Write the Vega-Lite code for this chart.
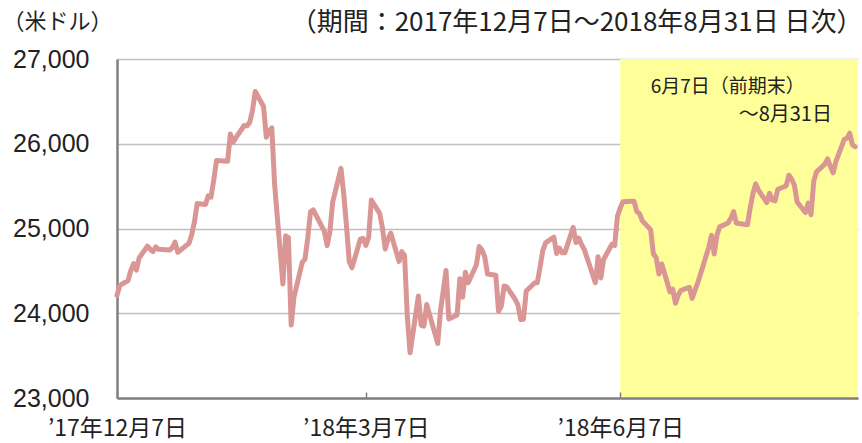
{
  "$schema": "https://vega.github.io/schema/vega-lite/v6.json",
  "width": 741,
  "height": 339,
  "autosize": {"type": "none"},
  "padding": {"left": 117, "top": 59, "right": 4, "bottom": 45},
  "background": "white",
  "config": {"view": {"stroke": null}, "font": "Noto Sans CJK JP"},
  "resolve": {"axis": {"x": "independent", "y": "independent"}},
  "data": {"values": [
    {"date": "2017-12-07", "v": 24211}, {"date": "2017-12-08", "v": 24329}, {"date": "2017-12-11", "v": 24386}, {"date": "2017-12-12", "v": 24505}, {"date": "2017-12-13", "v": 24585}, {"date": "2017-12-14", "v": 24509}, {"date": "2017-12-15", "v": 24652}, {"date": "2017-12-18", "v": 24792}, {"date": "2017-12-19", "v": 24755}, {"date": "2017-12-20", "v": 24727}, {"date": "2017-12-21", "v": 24782}, {"date": "2017-12-22", "v": 24754}, {"date": "2017-12-26", "v": 24746}, {"date": "2017-12-27", "v": 24774}, {"date": "2017-12-28", "v": 24838}, {"date": "2017-12-29", "v": 24719},
    {"date": "2018-01-02", "v": 24824}, {"date": "2018-01-03", "v": 24923}, {"date": "2018-01-04", "v": 25075}, {"date": "2018-01-05", "v": 25296}, {"date": "2018-01-08", "v": 25283}, {"date": "2018-01-09", "v": 25386}, {"date": "2018-01-10", "v": 25369}, {"date": "2018-01-11", "v": 25575}, {"date": "2018-01-12", "v": 25803}, {"date": "2018-01-16", "v": 25793}, {"date": "2018-01-17", "v": 26116}, {"date": "2018-01-18", "v": 26018}, {"date": "2018-01-19", "v": 26072}, {"date": "2018-01-22", "v": 26215}, {"date": "2018-01-23", "v": 26211}, {"date": "2018-01-24", "v": 26252}, {"date": "2018-01-25", "v": 26393}, {"date": "2018-01-26", "v": 26617}, {"date": "2018-01-29", "v": 26439}, {"date": "2018-01-30", "v": 26077}, {"date": "2018-01-31", "v": 26149},
    {"date": "2018-02-01", "v": 26187}, {"date": "2018-02-02", "v": 25521}, {"date": "2018-02-05", "v": 24346}, {"date": "2018-02-06", "v": 24913}, {"date": "2018-02-07", "v": 24893}, {"date": "2018-02-08", "v": 23860}, {"date": "2018-02-09", "v": 24191}, {"date": "2018-02-12", "v": 24601}, {"date": "2018-02-13", "v": 24640}, {"date": "2018-02-14", "v": 24893}, {"date": "2018-02-15", "v": 25200}, {"date": "2018-02-16", "v": 25219}, {"date": "2018-02-20", "v": 24965}, {"date": "2018-02-21", "v": 24798}, {"date": "2018-02-22", "v": 24962}, {"date": "2018-02-23", "v": 25310}, {"date": "2018-02-26", "v": 25709}, {"date": "2018-02-27", "v": 25410}, {"date": "2018-02-28", "v": 25029},
    {"date": "2018-03-01", "v": 24609}, {"date": "2018-03-02", "v": 24538}, {"date": "2018-03-05", "v": 24875}, {"date": "2018-03-06", "v": 24884}, {"date": "2018-03-07", "v": 24801}, {"date": "2018-03-08", "v": 24895}, {"date": "2018-03-09", "v": 25336}, {"date": "2018-03-12", "v": 25179}, {"date": "2018-03-13", "v": 25007}, {"date": "2018-03-14", "v": 24758}, {"date": "2018-03-15", "v": 24874}, {"date": "2018-03-16", "v": 24947}, {"date": "2018-03-19", "v": 24611}, {"date": "2018-03-20", "v": 24727}, {"date": "2018-03-21", "v": 24682}, {"date": "2018-03-22", "v": 23958}, {"date": "2018-03-23", "v": 23533}, {"date": "2018-03-26", "v": 24203}, {"date": "2018-03-27", "v": 23858}, {"date": "2018-03-28", "v": 23848}, {"date": "2018-03-29", "v": 24103},
    {"date": "2018-04-02", "v": 23644}, {"date": "2018-04-03", "v": 24033}, {"date": "2018-04-04", "v": 24264}, {"date": "2018-04-05", "v": 24505}, {"date": "2018-04-06", "v": 23933}, {"date": "2018-04-09", "v": 23979}, {"date": "2018-04-10", "v": 24408}, {"date": "2018-04-11", "v": 24189}, {"date": "2018-04-12", "v": 24483}, {"date": "2018-04-13", "v": 24360}, {"date": "2018-04-16", "v": 24573}, {"date": "2018-04-17", "v": 24787}, {"date": "2018-04-18", "v": 24748}, {"date": "2018-04-19", "v": 24665}, {"date": "2018-04-20", "v": 24463}, {"date": "2018-04-23", "v": 24449}, {"date": "2018-04-24", "v": 24024}, {"date": "2018-04-25", "v": 24084}, {"date": "2018-04-26", "v": 24322}, {"date": "2018-04-27", "v": 24311}, {"date": "2018-04-30", "v": 24163},
    {"date": "2018-05-01", "v": 24099}, {"date": "2018-05-02", "v": 23925}, {"date": "2018-05-03", "v": 23930}, {"date": "2018-05-04", "v": 24263}, {"date": "2018-05-07", "v": 24357}, {"date": "2018-05-08", "v": 24360}, {"date": "2018-05-09", "v": 24543}, {"date": "2018-05-10", "v": 24740}, {"date": "2018-05-11", "v": 24831}, {"date": "2018-05-14", "v": 24899}, {"date": "2018-05-15", "v": 24706}, {"date": "2018-05-16", "v": 24769}, {"date": "2018-05-17", "v": 24714}, {"date": "2018-05-18", "v": 24715}, {"date": "2018-05-21", "v": 25013}, {"date": "2018-05-22", "v": 24834}, {"date": "2018-05-23", "v": 24887}, {"date": "2018-05-24", "v": 24812}, {"date": "2018-05-25", "v": 24753}, {"date": "2018-05-29", "v": 24361}, {"date": "2018-05-30", "v": 24668}, {"date": "2018-05-31", "v": 24416},
    {"date": "2018-06-01", "v": 24635}, {"date": "2018-06-04", "v": 24814}, {"date": "2018-06-05", "v": 24800}, {"date": "2018-06-06", "v": 25146}, {"date": "2018-06-07", "v": 25241}, {"date": "2018-06-08", "v": 25317}, {"date": "2018-06-11", "v": 25322}, {"date": "2018-06-12", "v": 25321}, {"date": "2018-06-13", "v": 25201}, {"date": "2018-06-14", "v": 25175}, {"date": "2018-06-15", "v": 25090}, {"date": "2018-06-18", "v": 24987}, {"date": "2018-06-19", "v": 24700}, {"date": "2018-06-20", "v": 24658}, {"date": "2018-06-21", "v": 24462}, {"date": "2018-06-22", "v": 24581}, {"date": "2018-06-25", "v": 24253}, {"date": "2018-06-26", "v": 24283}, {"date": "2018-06-27", "v": 24118}, {"date": "2018-06-28", "v": 24216}, {"date": "2018-06-29", "v": 24271},
    {"date": "2018-07-02", "v": 24307}, {"date": "2018-07-03", "v": 24175}, {"date": "2018-07-05", "v": 24357}, {"date": "2018-07-06", "v": 24456}, {"date": "2018-07-09", "v": 24777}, {"date": "2018-07-10", "v": 24920}, {"date": "2018-07-11", "v": 24700}, {"date": "2018-07-12", "v": 24925}, {"date": "2018-07-13", "v": 25019}, {"date": "2018-07-16", "v": 25064}, {"date": "2018-07-17", "v": 25120}, {"date": "2018-07-18", "v": 25199}, {"date": "2018-07-19", "v": 25065}, {"date": "2018-07-20", "v": 25058}, {"date": "2018-07-23", "v": 25044}, {"date": "2018-07-24", "v": 25242}, {"date": "2018-07-25", "v": 25414}, {"date": "2018-07-26", "v": 25527}, {"date": "2018-07-27", "v": 25451}, {"date": "2018-07-30", "v": 25307}, {"date": "2018-07-31", "v": 25415},
    {"date": "2018-08-01", "v": 25334}, {"date": "2018-08-02", "v": 25326}, {"date": "2018-08-03", "v": 25463}, {"date": "2018-08-06", "v": 25502}, {"date": "2018-08-07", "v": 25629}, {"date": "2018-08-08", "v": 25584}, {"date": "2018-08-09", "v": 25509}, {"date": "2018-08-10", "v": 25313}, {"date": "2018-08-13", "v": 25188}, {"date": "2018-08-14", "v": 25300}, {"date": "2018-08-15", "v": 25162}, {"date": "2018-08-16", "v": 25559}, {"date": "2018-08-17", "v": 25669}, {"date": "2018-08-20", "v": 25759}, {"date": "2018-08-21", "v": 25822}, {"date": "2018-08-22", "v": 25734}, {"date": "2018-08-23", "v": 25657}, {"date": "2018-08-24", "v": 25790}, {"date": "2018-08-27", "v": 26050}, {"date": "2018-08-28", "v": 26064}, {"date": "2018-08-29", "v": 26125}, {"date": "2018-08-30", "v": 25987}, {"date": "2018-08-31", "v": 25965}
  ]},
  "layer": [
    {
      "data": {"values": [{"period": "6月7日～8月31日"}]},
      "mark": {"type": "rect", "color": "#FFFF99", "opacity": 1},
      "encoding": {
        "x": {
          "datum": {"year": 2018, "month": 6, "date": 7, "utc": true}, "type": "temporal",
          "axis": {
            "orient": "top", "title": "（期間：2017年12月7日～2018年8月31日 日次）",
            "labels": false, "ticks": false, "domain": false, "grid": false,
            "titleX": 745, "titleY": -37, "titleAlign": "right", "titleBaseline": "middle", "titleAnchor": null,
            "titleFont": "Noto Sans CJK JP", "titleFontSize": 26, "titleFontWeight": "normal", "titleColor": "#222"
          }
        },
        "x2": {"datum": {"year": 2018, "month": 9, "date": 1, "utc": true}},
        "y": {"datum": 23000, "type": "quantitative", "axis": null},
        "y2": {"datum": 27000}
      }
    },
    {
      "mark": {"type": "line", "color": "#D99694", "strokeWidth": 5, "strokeJoin": "round", "strokeCap": "round"},
      "encoding": {
        "x": {
          "field": "date", "type": "temporal",
          "scale": {"type": "utc", "domain": [{"year": 2017, "month": 12, "date": 7, "utc": true}, {"year": 2018, "month": 9, "date": 1, "utc": true}]},
          "axis": {
            "orient": "bottom",
            "title": null,
            "values": [{"year": 2017, "month": 12, "date": 7, "utc": true}, {"year": 2018, "month": 3, "date": 7, "utc": true}, {"year": 2018, "month": 6, "date": 7, "utc": true}],
            "labelExpr": "'’' + utcFormat(datum.value, '%y') + '年' + (utcmonth(datum.value) + 1) + '月' + utcdate(datum.value) + '日'",
            "grid": false,
            "domainColor": "#808080", "domainWidth": 2.5,
            "ticks": true, "tickColor": "#808080", "tickWidth": 1.5, "tickSize": -6,
            "labelFont": "Noto Sans CJK JP", "labelFontSize": 23, "labelColor": "#222",
            "labelPadding": 25, "labelFlush": false, "labelOverlap": false, "zindex": 1
          }
        },
        "y": {
          "field": "v", "type": "quantitative",
          "scale": {"domain": [23000, 27000], "nice": false, "zero": false},
          "axis": {
            "values": [23000, 24000, 25000, 26000, 27000], "format": ",d",
            "labelFont": "Liberation Sans", "labelFontSize": 25, "labelColor": "#222", "labelPadding": 28,
            "ticks": false,
            "grid": true, "gridColor": "#BFBFBF", "gridWidth": 1.5,
            "domainColor": "#808080", "domainWidth": 2.5,
            "title": "（米ドル）", "titleAngle": 0, "titleX": -60, "titleY": -38, "titleAlign": "center", "titleBaseline": "middle",
            "titleFont": "Noto Sans CJK JP", "titleFontSize": 22, "titleFontWeight": "normal", "titleColor": "#222"
          }
        }
      }
    },
    {
      "data": {"values": [{"label": "6月7日（前期末）"}]},
      "mark": {"type": "text", "align": "left", "baseline": "middle", "fontSize": 19, "font": "Noto Sans CJK JP", "color": "#222"},
      "encoding": {
        "x": {"datum": {"year": 2018, "month": 6, "date": 18, "utc": true}, "type": "temporal", "axis": null},
        "y": {"datum": 26673, "type": "quantitative", "axis": null},
        "text": {"field": "label"}
      }
    },
    {
      "data": {"values": [{"label": "～8月31日"}]},
      "mark": {"type": "text", "align": "right", "baseline": "middle", "fontSize": 20, "font": "Noto Sans CJK JP", "color": "#222"},
      "encoding": {
        "x": {"datum": {"year": 2018, "month": 8, "date": 22, "hours": 14, "utc": true}, "type": "temporal", "axis": null},
        "y": {"datum": 26339, "type": "quantitative", "axis": null},
        "text": {"field": "label"}
      }
    }
  ]
}
